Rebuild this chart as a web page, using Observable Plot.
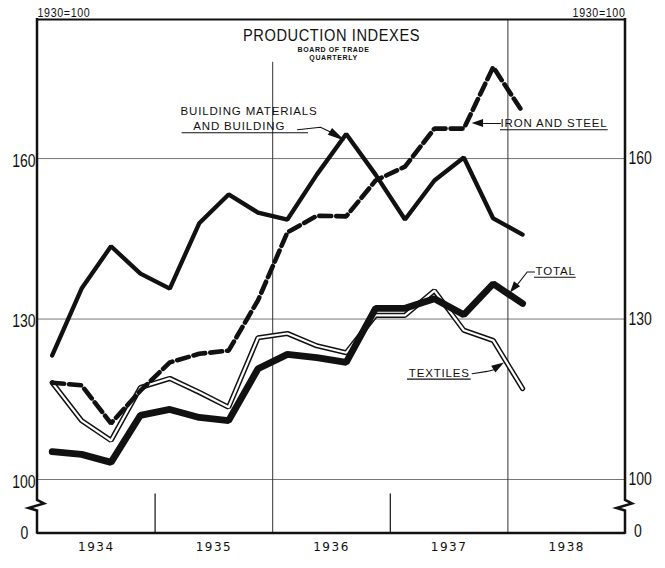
<!DOCTYPE html>
<html>
<head>
<meta charset="utf-8">
<script src="https://cdn.jsdelivr.net/npm/d3@7"></script>
<script src="https://cdn.jsdelivr.net/npm/@observablehq/plot@0.6"></script>
<style>
  html,body{margin:0;padding:0;background:#fff;}
  #chart svg{display:block;}
</style>
</head>
<body>
<div id="chart"></div>
<script>
// ---------------- data (index numbers, 1930 = 100, quarterly) ----------------
const quarters = ["1934 Q1","1934 Q2","1934 Q3","1934 Q4","1935 Q1","1935 Q2","1935 Q3","1935 Q4",
                  "1936 Q1","1936 Q2","1936 Q3","1936 Q4","1937 Q1","1937 Q2","1937 Q3","1937 Q4","1938 Q1"];
const buildingMaterials = [123.2,135.7,143.6,138.5,135.7,147.9,153.3,149.9,148.6,157.0,164.6,157.0,148.6,155.9,160.2,148.8,145.8];
const ironAndSteel      = [118.1,117.6,110.5,116.6,121.9,123.5,124.1,133.5,146.2,149.3,149.2,155.9,158.5,165.6,165.6,177.1,168.7];
const totalIndex        = [105.2,104.7,103.2,112.0,113.1,111.6,111.0,120.7,123.4,122.8,121.9,132.0,132.0,133.8,130.8,136.6,132.9];
const textilesIndex     = [118.1,111.0,107.3,117.2,118.9,116.3,113.5,126.5,127.3,125.0,123.7,130.7,130.7,135.3,127.9,126.0,117.0];
const yearLabels = ["1934","1935","1936","1937","1938"];
const yTickValues = [100,130,160];
const baseValue = 90;      // bottom of the broken scale, labelled "0"
const topValue = 186;
const titleText = "PRODUCTION INDEXES";
const subtitleLines = ["BOARD OF TRADE","QUARTERLY"];
const baseLabel = "1930=100";

// annotation labels (data space: x = year, y = index)
const annoLabels = [
  {text:"BUILDING MATERIALS", x:1935.216, y:168.11},
  {text:"AND BUILDING",       x:1935.324, y:165.30},
  {text:"IRON AND STEEL",     x:1937.937, y:165.81},
  {text:"TOTAL",              x:1938.235, y:138.18},
  {text:"TEXTILES",           x:1937.157, y:119.15}
];
const annoUnderlines = [
  {x1:1935.230, x2:1936.304, y:164.84},
  {x1:1937.937, x2:1938.853, y:165.40},
  {x1:1938.226, x2:1938.581, y:137.80},
  {x1:1937.146, x2:1937.688, y:118.76}
];
const annoLeaders = [
  [[1936.211,165.40],[1936.406,165.86],[1936.491,164.99]],
  [[1937.937,166.56],[1937.793,166.56]],
  [[1938.226,138.79],[1938.164,138.79],[1938.082,136.49]],
  [[1937.696,119.78],[1937.824,120.21],[1937.880,120.53]]
];
const annoArrows = [
  {base:[1936.491,164.99], tip:[1936.619,163.25]},
  {base:[1937.793,166.56], tip:[1937.696,166.56]},
  {base:[1938.082,136.49], tip:[1938.022,134.86]},
  {base:[1937.880,120.53], tip:[1937.971,121.77]}
];

// ---------------- build ----------------
const SANS = "'Liberation Sans',Arial,sans-serif";
const INK = "#111";

const xOf = q => { const [yr, qq] = q.split(" Q"); return +yr + (+qq - 0.5) / 4; };
const rows = quarters.map((q, i) => ({
  t: xOf(q),
  building: buildingMaterials[i],
  iron: ironAndSteel[i],
  total: totalIndex[i],
  textiles: textilesIndex[i]
}));
const firstYear = +yearLabels[0];
const lastYear = +yearLabels[yearLabels.length - 1] + 1;
const leaderRows = annoLeaders.flatMap((pts, i) => pts.map(p => ({g:i, x:p[0], y:p[1]})));

const plot = Plot.plot({
  width: 665, height: 568,
  marginTop: 19, marginBottom: 35.5, marginLeft: 37, marginRight: 40,
  x: {domain: [firstYear, lastYear], axis: null},
  y: {domain: [baseValue, topValue], axis: null},
  style: {background: "#fff", overflow: "visible"},
  marks: [
    // grid
    Plot.ruleY(yTickValues, {stroke: "#666", strokeWidth: 0.9}),
    Plot.ruleX([1936], {y1: baseValue, y2: 178, stroke: "#333", strokeWidth: 1}),
    Plot.ruleX([1938], {y1: baseValue, y2: topValue, stroke: "#333", strokeWidth: 1}),
    Plot.ruleX([1935, 1937], {y1: baseValue, y2: 97.3, stroke: INK, strokeWidth: 1.2}),
    Plot.ruleY([topValue], {stroke: INK, strokeWidth: 2}),
    Plot.ruleY([baseValue], {stroke: INK, strokeWidth: 2.6}),
    // series
    Plot.line(rows, {x: "t", y: "textiles", stroke: INK, strokeWidth: 5.2, strokeLinejoin: "miter"}),
    Plot.line(rows, {x: "t", y: "textiles", stroke: "#fff", strokeWidth: 2.2, strokeLinejoin: "miter"}),
    Plot.line(rows, {x: "t", y: "building", stroke: INK, strokeWidth: 4.3, strokeLinejoin: "miter"}),
    Plot.line(rows, {x: "t", y: "iron", stroke: INK, strokeWidth: 4.6, strokeDasharray: "12,5", strokeLinejoin: "miter"}),
    Plot.line(rows, {x: "t", y: "total", stroke: INK, strokeWidth: 6.8, strokeLinejoin: "miter"}),
    // annotations
    Plot.ruleY(annoUnderlines, {x1: "x1", x2: "x2", y: "y", stroke: INK, strokeWidth: 1.1}),
    Plot.line(leaderRows, {x: "x", y: "y", z: "g", stroke: INK, strokeWidth: 1.1}),
    Plot.text(annoLabels, {x: "x", y: "y", text: "text", textAnchor: "start", lineAnchor: "bottom",
      fontSize: 11.5, fontFamily: SANS, fill: INK}),
    // titles
    Plot.text([titleText], {frameAnchor: "top", dy: 21, lineAnchor: "bottom", fontSize: 17.2, fontFamily: SANS, fill: INK}),
    Plot.text([subtitleLines[0]], {frameAnchor: "top", dx: 2, dy: 32.5, lineAnchor: "bottom", fontSize: 7, fontWeight: "bold", fontFamily: SANS, fill: INK}),
    Plot.text([subtitleLines[1]], {frameAnchor: "top", dx: 2, dy: 40.5, lineAnchor: "bottom", fontSize: 7, fontWeight: "bold", fontFamily: SANS, fill: INK}),
    Plot.text([baseLabel], {x: firstYear, y: topValue, dy: -3, textAnchor: "start", lineAnchor: "bottom", fontSize: 13, fontFamily: SANS, fill: INK}),
    Plot.text([baseLabel], {x: lastYear, y: topValue, dy: -3, textAnchor: "end", lineAnchor: "bottom", fontSize: 13, fontFamily: SANS, fill: INK}),
    // axis labels
    Plot.text(yearLabels, {x: d => +d + 0.5, y: baseValue, dy: 17.5, lineAnchor: "bottom", fontSize: 12, fontFamily: "'DejaVu Sans',sans-serif", fill: INK}),
    Plot.text(yTickValues, {x: firstYear, y: d => d, dx: -2, dy: 2.5, textAnchor: "end", lineAnchor: "middle", fontSize: 17.5, fontFamily: SANS, fill: INK}),
    Plot.text(yTickValues, {x: lastYear, y: d => d, dx: 3, textAnchor: "start", lineAnchor: "middle", fontSize: 17.5, fontFamily: SANS, fill: INK}),
    Plot.text([baseValue], {x: firstYear, y: d => d, text: () => "0", dx: -13, textAnchor: "middle", lineAnchor: "middle", fontSize: 17.5, fontFamily: SANS, fill: INK}),
    Plot.text([baseValue], {x: lastYear, y: d => d, text: () => "0", dx: 12.5, dy: -1.5, textAnchor: "middle", lineAnchor: "middle", fontSize: 17.5, fontFamily: SANS, fill: INK})
  ]
});

document.getElementById("chart").appendChild(plot);

// ---------- finishing touches drawn through the plot's own scales ----------
const sx = plot.scale("x"), sy = plot.scale("y");
const svg = d3.select(plot);
const extra = svg.append("g");

// frame sides with axis breaks
const breakValue = 96.08;
[firstYear, lastYear].forEach(v => {
  const x = sx.apply(v), yT = sy.apply(topValue), yB = sy.apply(baseValue), yBr = sy.apply(breakValue);
  extra.append("path")
    .attr("d", `M${x},${yT - 1}V${yBr}l7,3.5l-15.5,4.5l8.5,2.5V${yB + 1.3}`)
    .attr("fill", "none").attr("stroke", INK).attr("stroke-width", 2.5).attr("stroke-linejoin", "miter");
});

// filled arrowheads
annoArrows.forEach(a => {
  const bx = sx.apply(a.base[0]), by = sy.apply(a.base[1]);
  const tx = sx.apply(a.tip[0]), ty = sy.apply(a.tip[1]);
  const dx = tx - bx, dy = ty - by, L = Math.hypot(dx, dy) || 1;
  const nx = -dy / L, ny = dx / L, w = 4;
  extra.append("path")
    .attr("d", `M${tx},${ty}L${bx + nx * w},${by + ny * w}L${bx - nx * w},${by - ny * w}Z`)
    .attr("fill", INK);
});

// letter spacing of hand-lettered texts
const spacing = new Map([
  [titleText, 0.7], [subtitleLines[0], 0.6], [subtitleLines[1], 0.6], [baseLabel, 0.8],
  ["BUILDING MATERIALS", 0.85], ["AND BUILDING", 0.85], ["IRON AND STEEL", 0.85], ["TOTAL", 0.85], ["TEXTILES", 0.85],
  ...yearLabels.map(y => [y, 1.5])
]);
// narrow (condensed) lettering, compressed about each text's own anchor
const narrow = new Map([
  [titleText, 0.85], [baseLabel, 0.82], ["0", 0.8],
  ...yTickValues.map(v => [String(v), 0.8])
]);
svg.selectAll("text").each(function () {
  const s = spacing.get(this.textContent);
  if (s != null) this.style.letterSpacing = s + "px";
  const k = narrow.get(this.textContent);
  if (k != null) {
    const ax = +(this.getAttribute("x") || 0);
    const t = this.getAttribute("transform") || "";
    this.setAttribute("transform", `${t} translate(${ax},0) scale(${k},1) translate(${-ax},0)`);
  }
});
</script>
</body>
</html>
